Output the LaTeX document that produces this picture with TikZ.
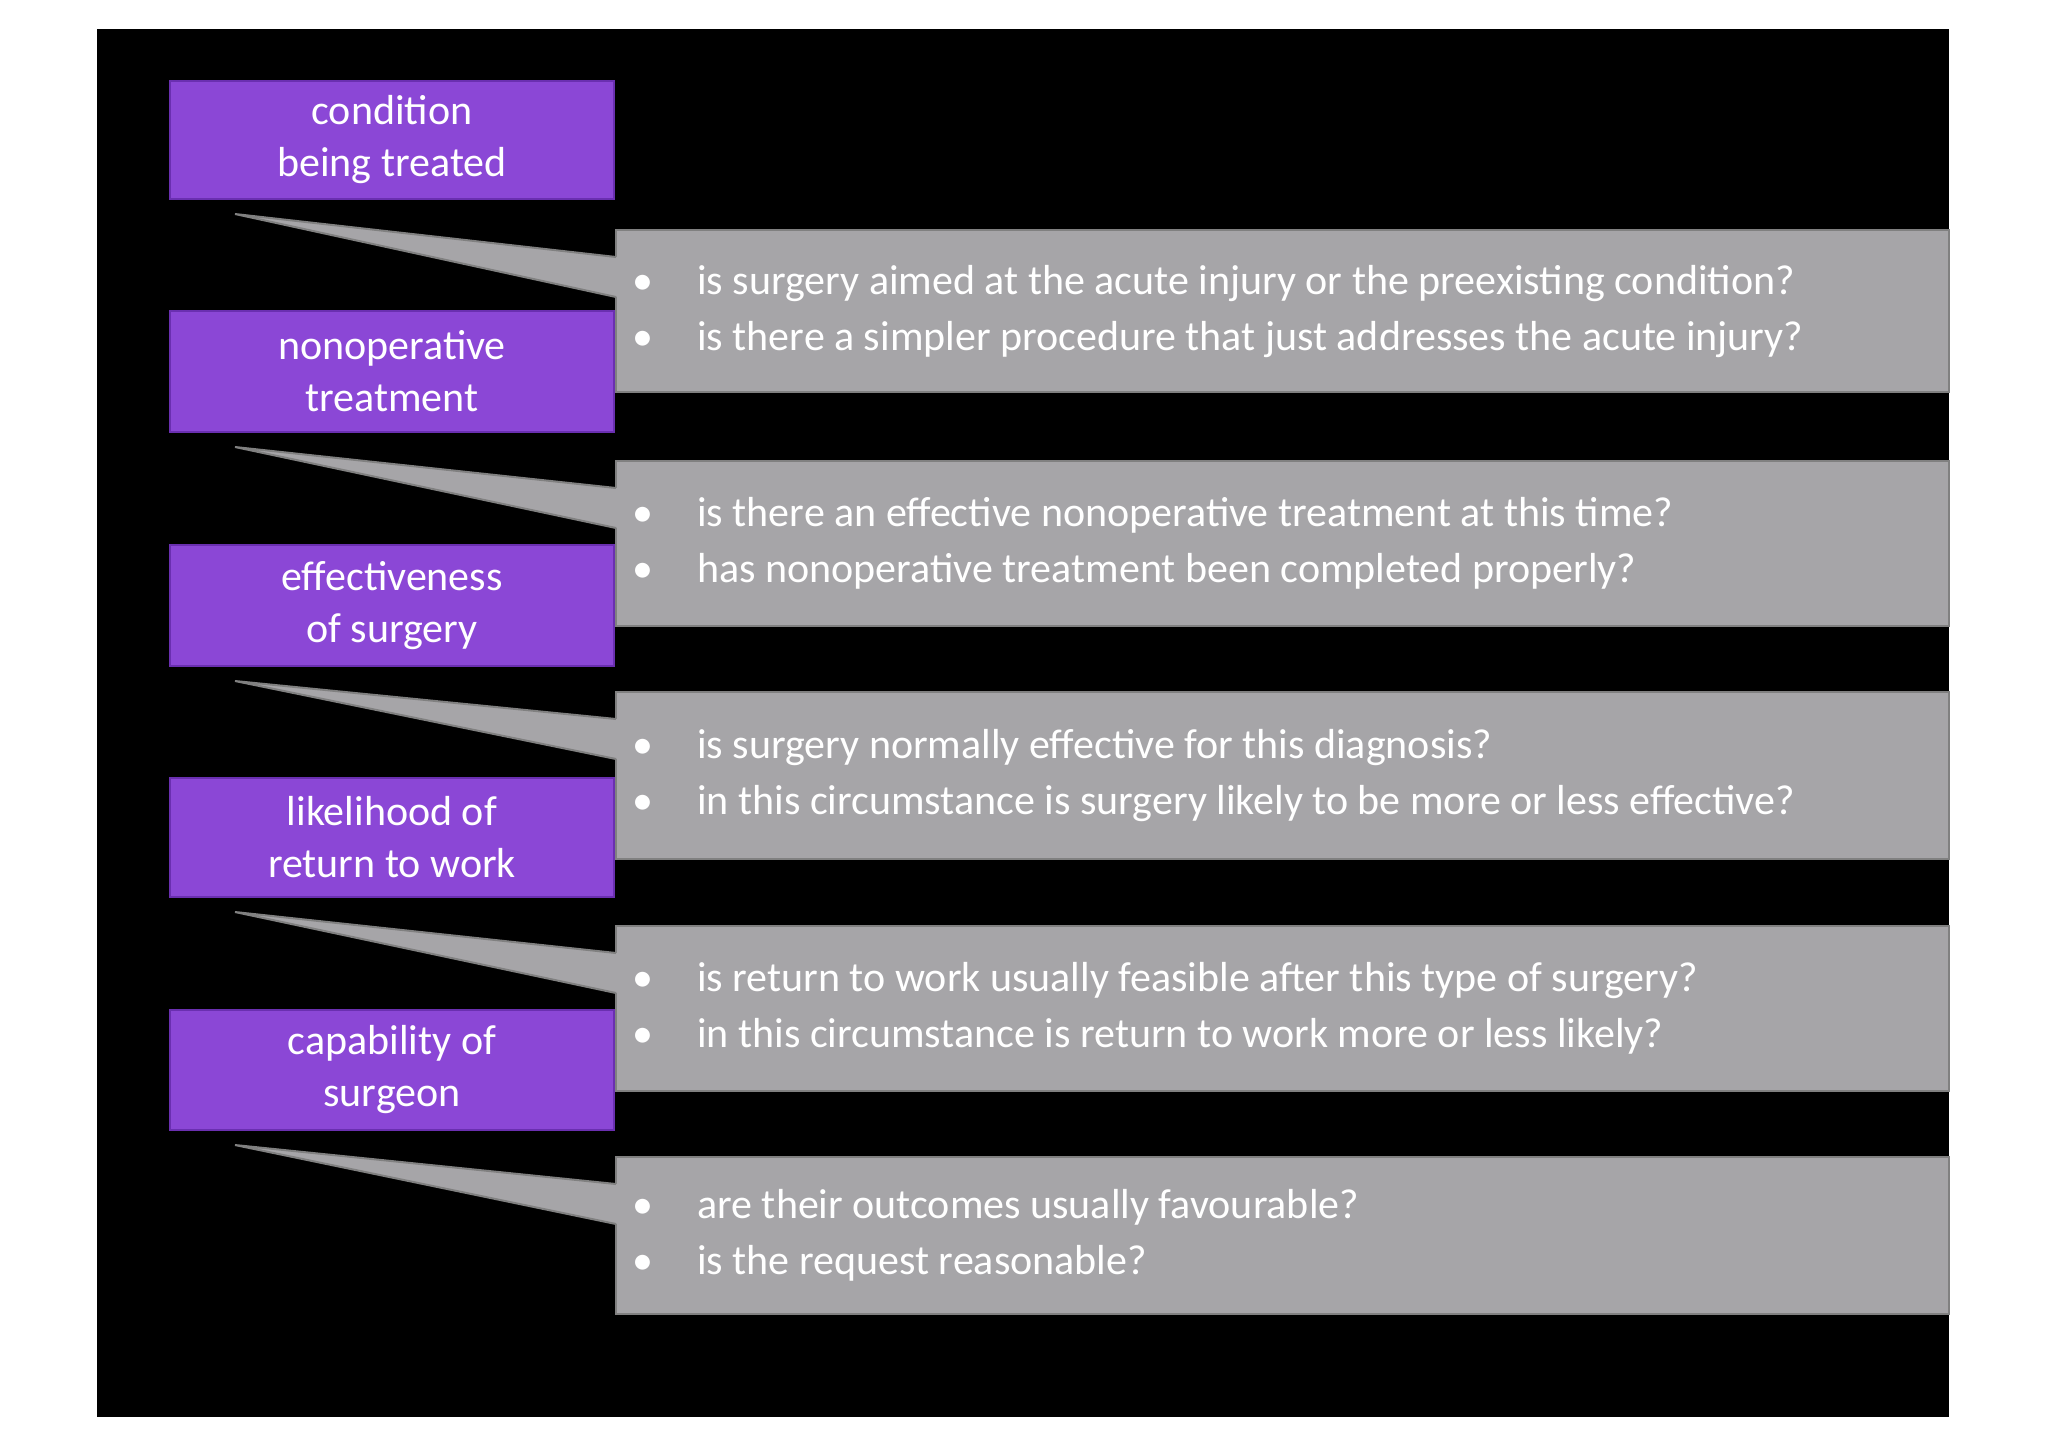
\documentclass[tikz,border=0pt]{standalone}
\usepackage{fontspec}
\setmainfont{Carlito}
\definecolor{pur}{HTML}{8B47D6}
\definecolor{purb}{HTML}{6A2FB0}
\definecolor{gry}{HTML}{A6A5A8}
\definecolor{gryb}{HTML}{808080}
\begin{document}
\begin{tikzpicture}[x=0.5pt,y=-0.5pt,
  pbox/.style={draw=purb,line width=1pt,fill=pur,text=white,align=center,font=\fontsize{21}{26}\selectfont},
  gbox/.style={draw=gryb,line width=1pt,fill=gry},
  btext/.style={anchor=west,text=white,font=\fontsize{21}{28}\selectfont,inner sep=0pt}]
\fill[white] (0,0) rectangle (2048,1447);
\useasboundingbox (0,0) rectangle (2048,1447);
\fill[black] (97,29) rectangle (1949,1417);
\def\callout#1#2#3#4#5#6#7#8{%
  \fill[pur,draw=purb,line width=1pt] (170,#2) rectangle (614,#3);
  \node[pbox,draw=none,fill=none] (p#1) at (392,{(#2+#3)/2}) {#4};
  \fill[gry,draw=gryb,line width=1pt] (616,#5) rectangle (1949,#6);
  \coordinate (t#1) at (235,{#3+15});
  \fill[gry] (t#1) -- (618,{#5+27}) -- (618,{#5+67}) -- cycle;
  \draw[gryb,line width=1pt] (616,{#5+27}) -- (t#1) -- (616,{#5+67});
  \node[btext] (g#1) at (632,{(#5+#6)/2}) {\begin{tabular}{@{}l@{\hspace{22pt}}l@{}}\textbullet&#7\\\textbullet&#8\end{tabular}};
}
\callout{1}{81}{199}{condition\\being treated}{230}{392}{is surgery aimed at the acute injury or the preexisting condition?}{is there a simpler procedure that just addresses the acute injury?}
\callout{2}{311}{432}{nonoperative\\treatment}{461}{626}{is there an effective nonoperative treatment at this time?}{has nonoperative treatment been completed properly?}
\callout{3}{545}{666}{effectiveness\\of surgery}{692}{859}{is surgery normally effective for this diagnosis?}{in this circumstance is surgery likely to be more or less effective?}
\callout{4}{778}{897}{likelihood of\\return to work}{926}{1091}{is return to work usually feasible after this type of surgery?}{in this circumstance is return to work more or less likely?}
\callout{5}{1010}{1130}{capability of\\surgeon}{1157}{1314}{are their outcomes usually favourable?}{is the request reasonable?}
\end{tikzpicture}
\end{document}
